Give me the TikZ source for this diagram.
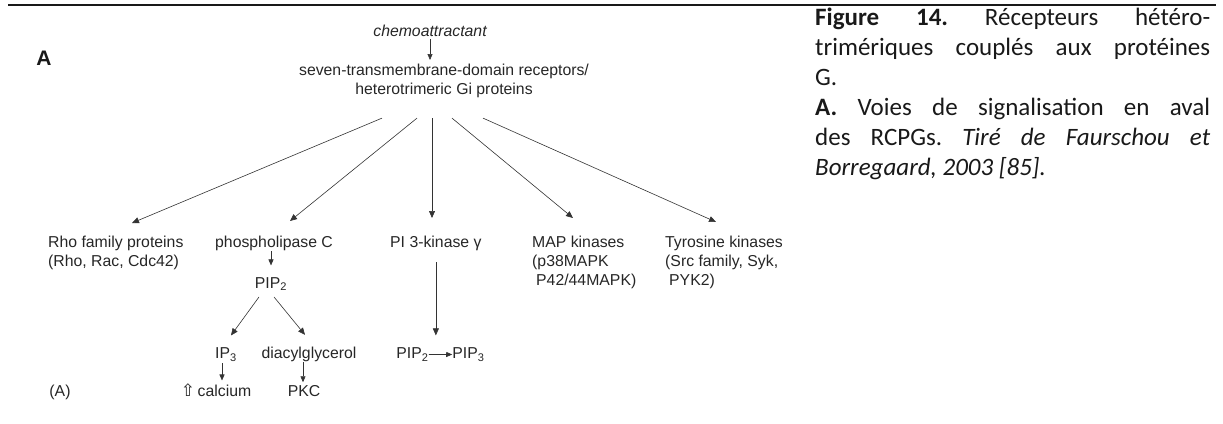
\documentclass[tikz,border=0pt]{standalone}
\usepackage{fontspec}
\setmainfont{Liberation Sans}
\newfontfamily\capfont{Carlito}
\newfontfamily\symfont{DejaVu Sans}
\usetikzlibrary{arrows.meta,positioning,calc}
\frenchspacing

\begin{document}
\begin{tikzpicture}[
    x=1pt, y=-1pt,
    lbl/.style={font=\fontsize{15.8}{19}\selectfont, inner sep=0pt, text=black!85},
    lblL/.style={lbl, align=left, anchor=north west},
    arrow/.style={-{Triangle[length=7pt,width=6pt]}, line width=0.6pt, draw=black!80},
    small arrow/.style={-{Triangle[length=6pt,width=5pt]}, line width=0.6pt, draw=black!80}
  ]
    \useasboundingbox (0,0) rectangle (1223,423);
    % Rule
    \draw[line width=2.6pt, black!90] (8,5) -- (1216,5);

    % Nodes
    \node[font=\fontsize{21}{24}\selectfont\bfseries, inner sep=0pt, anchor=base, text=black!90] (panel) at (44,65) {A};
    \node[lbl, font=\fontsize{15.8}{19}\selectfont\itshape, anchor=base] (chemo) at (430,36) {chemoattractant};
    \node[lbl, align=center, anchor=north] (recep) at (444,64) {seven-transmembrane-domain receptors/\\heterotrimeric Gi proteins};
    \node[lblL] (rho) at (48,236) {Rho family proteins\\(Rho, Rac, Cdc42)};
    \node[lblL] (plc) at (215,236) {phospholipase C};
    \node[lblL] (pik) at (390,236) {PI 3-kinase γ};
    \node[lblL] (mapk) at (532,236) {MAP kinases\\(p38MAPK\\\hspace*{4pt}P42/44MAPK)};
    \node[lblL] (tyr) at (665,236) {Tyrosine kinases\\(Src family, Syk,\\\hspace*{4pt}PYK2)};
    \node[lbl, anchor=base] (pip) at (271,288) {PIP\textsubscript{2}};
    \node[lbl, anchor=base] (ipt) at (226,358.5) {IP\textsubscript{3}};
    \node[lbl, anchor=base] (dag) at (309,358.5) {diacylglycerol};
    \node[lbl, anchor=base] (pipa) at (412.5,358.5) {PIP\textsubscript{2}};
    \node[lbl, anchor=base] (pipb) at (468.5,358.5) {PIP\textsubscript{3}};
    \node[lbl, anchor=base] (cal) at (216,396.5) {{\symfont\fontsize{17}{19}\selectfont ⇧}\,calcium};
    \node[lbl, anchor=base] (pkc) at (304,396.5) {PKC};
    \node[lbl, anchor=base] (tag) at (60,396.5) {(A)};

    % Fan origins
    \coordinate (f1) at ($(recep.south)+(-62,20)$);
    \coordinate (f2) at ($(recep.south)+(-27,20)$);
    \coordinate (f3) at ($(recep.south)+(-12,20)$);
    \coordinate (f4) at ($(recep.south)+(8,20)$);
    \coordinate (f5) at ($(recep.south)+(39,20)$);

    % Arrows
    \draw[small arrow, shorten <=3pt, shorten >=4pt] (chemo.south) -- (chemo.south |- recep.north);
    \draw[arrow] (f1) -- ($(rho.north west)+(84,-13)$);
    \draw[arrow] (f2) -- ($(plc.north west)+(75,-15)$);
    \draw[arrow] (f3) -- ($(pik.north west)+(42,-18)$);
    \draw[arrow] (f4) -- ($(mapk.north west)+(41,-18)$);
    \draw[arrow] (f5) -- ($(tyr.north west)+(51,-14)$);
    \draw[small arrow, shorten >=11.5pt] (pip.north |- plc.south) -- (pip.north);
    \draw[arrow] ($(pip.south)+(-12,6)$) -- ($(ipt.north)+(5,-12)$);
    \draw[arrow] ($(pip.south)+(3,6)$) -- ($(dag.north)+(-4,-12)$);
    \draw[small arrow, shorten <=1.5pt, shorten >=3pt] ([xshift=-4pt]ipt.south) -- ([xshift=-4pt]ipt.south |- cal.north);
    \draw[small arrow, shorten >=3pt] ([xshift=-6pt]dag.south) -- ([xshift=-6pt]dag.south |- pkc.north);
    \draw[arrow, shorten <=11pt, shorten >=12pt] (pik.south) -- (pik.south |- pipa.north);
    \draw[small arrow] (pipa.east) -- (pipb.west);

    % Caption
    \node[text=black!90, inner sep=0pt, text width=395pt, align=justify, anchor=north west] (caption) at (815,8) {\capfont\fontsize{25}{30}\selectfont\frenchspacing
    \noindent\textbf{Figure 14.} Récepteurs hétéro-\linebreak trimériques couplés aux protéines\linebreak G.\par
    \noindent\textbf{A.} Voies de signalisation en aval\linebreak des RCPGs. \textit{Tiré de Faurschou et}\linebreak \textit{Borregaard, 2003 [85].}\par};
\end{tikzpicture}
\end{document}
